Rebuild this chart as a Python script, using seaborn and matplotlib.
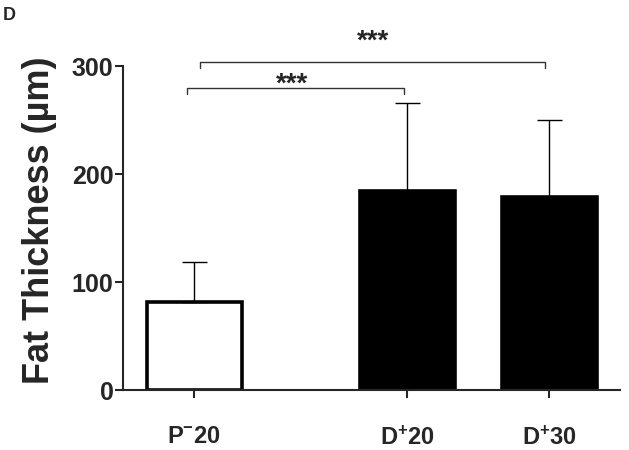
import numpy as np
import pandas as pd
import matplotlib
matplotlib.use("Agg")
import matplotlib.pyplot as plt
import seaborn as sns

# -----------------------------
# Data
# -----------------------------
groups = ["P-20", "D+20", "D+30"]
positions = [0.0, 1.5, 2.5]
means = [82, 184, 179]
sds = [37, 82, 71]
tick_labels = [r"$\mathbf{P^{-}20}$", r"$\mathbf{D^{+}20}$", r"$\mathbf{D^{+}30}$"]
fill_colors = ["white", "black", "black"]

# significance brackets: left x, right x, bracket height, star x, star baseline
bracket_x0 = [-0.05, 0.04]
bracket_x1 = [1.48, 2.47]
bracket_h = [280, 304]
star_x = [0.69, 1.26]
star_y = [276, 316]

df = pd.DataFrame({"group": groups, "pos": positions, "mean": means, "sd": sds})

# -----------------------------
# Style
# -----------------------------
sns.set_style("ticks")
plt.rcParams["font.family"] = ["Liberation Sans", "DejaVu Sans"]
plt.rcParams["mathtext.fontset"] = "custom"
plt.rcParams["mathtext.rm"] = "Liberation Sans"
plt.rcParams["mathtext.bf"] = "Liberation Sans:bold"

fig = plt.figure(figsize=(6.29, 4.5), dpi=100)
ax = fig.add_axes([0.196, 0.133, 0.79, 0.72])

sns.barplot(data=df, x="pos", y="mean", hue="group", palette=fill_colors,
            native_scale=True, dodge=False, width=0.67, errorbar=None,
            edgecolor="black", linewidth=2.6, legend=False, ax=ax)

# upper-only SD error bars
ax.errorbar(df["pos"], df["mean"], yerr=[np.zeros(len(df)), df["sd"]],
            fmt="none", ecolor="black", elinewidth=1.0, capsize=9, capthick=1.0,
            zorder=1)

# significance brackets
for x0, x1, h, sx, sy in zip(bracket_x0, bracket_x1, bracket_h, star_x, star_y):
    ax.plot([x0, x0, x1, x1], [h - 6, h, h, h - 6], color="#333333", lw=1.0,
            clip_on=False)
    ax.text(sx, sy, "***", ha="center", va="baseline",
            fontsize=20, fontweight="bold", clip_on=False)

ax.set_xlim(-0.5, 3.0)
ax.set_ylim(0, 300)
ax.set_yticks([0, 100, 200, 300])
ax.set_xticks(positions)
ax.set_xticklabels(tick_labels, fontsize=17)
ax.tick_params(axis="y", labelsize=18, width=1.5, length=6, pad=1)
ax.tick_params(axis="x", width=1.5, length=6, pad=20)
for lab in ax.get_yticklabels():
    lab.set_fontweight("bold")
ax.set_xlabel("")
ax.set_ylabel("Fat Thickness (\u00b5m)", fontsize=26, fontweight="bold")
ax.yaxis.set_label_coords(-0.133, 0.525)

sns.despine(ax=ax)
ax.spines["left"].set_linewidth(1.5)
ax.spines["bottom"].set_linewidth(1.5)

fig.text(0.005, 0.985, "D", fontsize=13, fontweight="bold", va="top")

fig.savefig("out.png", dpi=100)
plt.close(fig)
